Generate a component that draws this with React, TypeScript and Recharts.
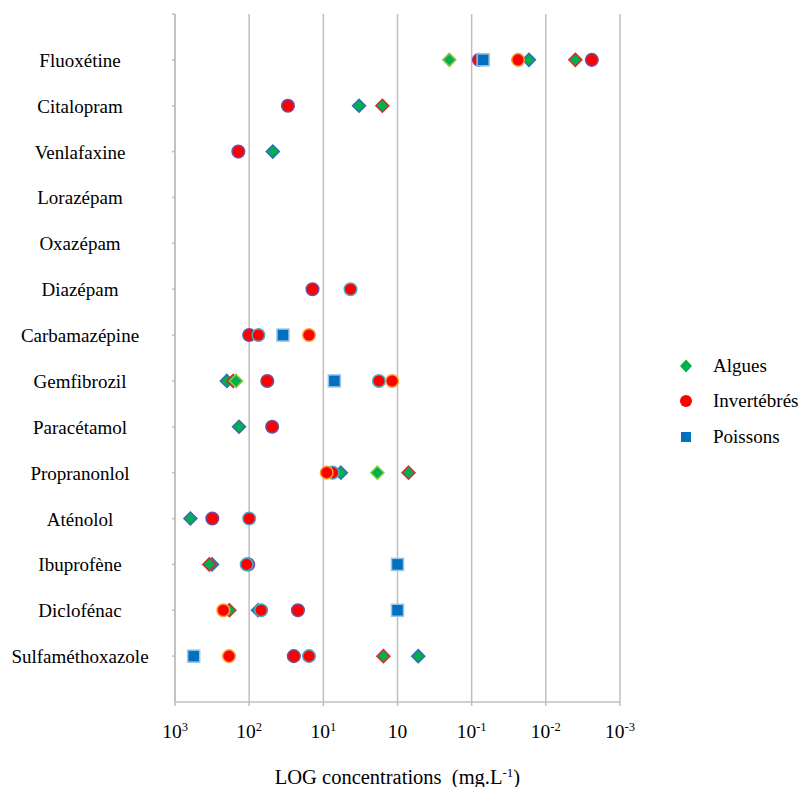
import React from 'react';
import { ScatterChart, Scatter, XAxis, YAxis, CartesianGrid } from 'recharts';

// categories, top to bottom
const drugs = [
  'Fluoxétine', 'Citalopram', 'Venlafaxine', 'Lorazépam', 'Oxazépam', 'Diazépam', 'Carbamazépine',
  'Gemfibrozil', 'Paracétamol', 'Propranonlol', 'Aténolol', 'Ibuprofène', 'Diclofénac', 'Sulfaméthoxazole',
];

// x axis ticks (mg/L) and their printed labels [base, exponent]
const xTickValues = [1000, 100, 10, 1, 0.1, 0.01, 0.001];
const xTickLabels = [['10', '3'], ['10', '2'], ['10', '1'], ['10', ''], ['10', '-1'], ['10', '-2'], ['10', '-3']];

// Algues
const algaeBlueEdge: [string, number][] = [
  ['Fluoxétine', 0.0169], ['Citalopram', 3.3], ['Venlafaxine', 48], ['Gemfibrozil', 200],
  ['Paracétamol', 137], ['Propranonlol', 5.8], ['Aténolol', 620], ['Ibuprofène', 317],
  ['Diclofénac', 76], ['Sulfaméthoxazole', 0.525],
];
const algaeRedEdge: [string, number][] = [
  ['Fluoxétine', 0.004], ['Citalopram', 1.6], ['Gemfibrozil', 164], ['Propranonlol', 0.71],
  ['Ibuprofène', 345], ['Diclofénac', 185], ['Sulfaméthoxazole', 1.55],
];
const algaeLight: [string, number][] = [
  ['Fluoxétine', 0.2], ['Gemfibrozil', 150], ['Propranonlol', 1.87],
];

// Invertébrés
const invPurpleEdge: [string, number][] = [
  ['Fluoxétine', 0.08], ['Fluoxétine', 0.0024], ['Citalopram', 30], ['Venlafaxine', 140],
  ['Diazépam', 14], ['Carbamazépine', 100], ['Gemfibrozil', 57], ['Paracétamol', 49],
  ['Aténolol', 314], ['Ibuprofène', 103], ['Diclofénac', 22], ['Sulfaméthoxazole', 25],
];
const invCyanEdge: [string, number][] = [
  ['Diazépam', 4.3], ['Carbamazépine', 75], ['Gemfibrozil', 1.78], ['Propranonlol', 7.5],
  ['Aténolol', 100], ['Ibuprofène', 108], ['Diclofénac', 69], ['Sulfaméthoxazole', 15.6],
];
const invOrangeEdge: [string, number][] = [
  ['Fluoxétine', 0.0237], ['Carbamazépine', 15.6], ['Gemfibrozil', 1.18], ['Propranonlol', 9.0],
  ['Diclofénac', 223], ['Sulfaméthoxazole', 187],
];

// Poissons
const fish: [string, number][] = [
  ['Fluoxétine', 0.07], ['Carbamazépine', 35], ['Gemfibrozil', 7.1], ['Ibuprofène', 1.0],
  ['Diclofénac', 1.0], ['Sulfaméthoxazole', 560],
];

const FONT = '"Liberation Serif", "Times New Roman", serif';
const GREEN = '#00b050';
const RED = '#ff0000';
const BLUE = '#0070c0';
const GRID = '#bfbfbf';

const toPoints = (rows: [string, number][]) =>
  rows.map(([name, v]) => ({ x: v, y: drugs.indexOf(name) + 1 }));

const series = [
  { key: 'a1', rows: algaeBlueEdge, kind: 'diamond', fill: GREEN, stroke: '#2f6eb5' },
  { key: 'a2', rows: algaeRedEdge, kind: 'diamond', fill: GREEN, stroke: '#d03030' },
  { key: 'a3', rows: algaeLight, kind: 'diamond', fill: GREEN, stroke: '#8cc63f' },
  { key: 'i1', rows: invPurpleEdge, kind: 'circle', fill: RED, stroke: '#7050a0' },
  { key: 'i2', rows: invCyanEdge, kind: 'circle', fill: RED, stroke: '#4bacc6' },
  { key: 'i3', rows: invOrangeEdge, kind: 'circle', fill: RED, stroke: '#f7a030' },
  { key: 'p1', rows: fish, kind: 'square', fill: BLUE, stroke: '#9dc3e6' },
];

const Marker = ({ cx, cy, kind, fill, stroke }: any) => {
  if (cx == null || cy == null) return null;
  if (kind === 'diamond') {
    const r = 6.5;
    return (
      <polygon
        points={`${cx},${cy - r} ${cx + r},${cy} ${cx},${cy + r} ${cx - r},${cy}`}
        fill={fill} stroke={stroke} strokeWidth={1.5}
      />
    );
  }
  if (kind === 'circle') {
    return <circle cx={cx} cy={cy} r={6.3} fill={fill} stroke={stroke} strokeWidth={1.5} />;
  }
  return <rect x={cx - 6} y={cy - 6} width={12} height={12} fill={fill} stroke={stroke} strokeWidth={1.5} />;
};

const XTick = ({ x, y, payload }: any) => {
  const i = xTickValues.indexOf(payload.value);
  const [base, exp] = xTickLabels[i] || ['', ''];
  return (
    <text x={x} y={y + 30} textAnchor="middle" fontFamily={FONT} fontSize={19.5} fill="#000">
      <tspan>{base}</tspan>
      {exp && <tspan dy={-7} fontSize={12.5}>{exp}</tspan>}
    </text>
  );
};

const YTick = ({ y, payload }: any) => {
  const name = drugs[payload.value - 1];
  if (!name) return null;
  return (
    <text x={80} y={y + 7} textAnchor="middle" fontFamily={FONT} fontSize={19} fill="#000">
      {name}
    </text>
  );
};

const XTitle = ({ viewBox }: any) => {
  const cx = viewBox.x + viewBox.width / 2;
  return (
    <text x={cx} y={viewBox.y + 82} textAnchor="middle" fontFamily={FONT} fontSize={20.5} fill="#000">
      <tspan>{'LOG concentrations\u00a0\u00a0(mg.L'}</tspan>
      <tspan dy={-7} fontSize={13}>-1</tspan>
      <tspan dy={7}>)</tspan>
    </text>
  );
};

const legendItems = [
  { label: 'Algues', kind: 'diamond', color: GREEN },
  { label: 'Invertébrés', kind: 'circle', color: RED },
  { label: 'Poissons', kind: 'square', color: BLUE },
];

const LegendIcon = ({ kind, color }: { kind: string; color: string }) => (
  <svg width={16} height={16} style={{ display: 'block' }}>
    {kind === 'diamond' && <polygon points="8,1.5 14,8 8,14.5 2,8" fill={color} />}
    {kind === 'circle' && <circle cx={8} cy={8} r={6} fill={color} />}
    {kind === 'square' && <rect x={3} y={3} width={10} height={10} fill={color} />}
  </svg>
);

export default function App() {
  return (
    <div style={{ position: 'absolute', left: 0, top: 0, width: 801, height: 787, background: '#fff' }}>
      <ScatterChart width={801} height={787} margin={{ top: 14, right: 181, bottom: 0, left: 0 }}>
        <CartesianGrid horizontal={false} stroke={GRID} strokeWidth={1.5} />
        <XAxis
          type="number"
          dataKey="x"
          scale="log"
          domain={[0.001, 1000]}
          reversed
          allowDataOverflow
          ticks={xTickValues}
          interval={0}
          height={85}
          tickSize={4}
          stroke={GRID}
          strokeWidth={1.5}
          tick={<XTick />}
          label={{ content: <XTitle /> }}
        />
        <YAxis
          type="number"
          dataKey="y"
          domain={[0, 15]}
          reversed
          ticks={[0, 1, 2, 3, 4, 5, 6, 7, 8, 9, 10, 11, 12, 13, 14]}
          interval={0}
          width={175}
          tickSize={3}
          stroke={GRID}
          strokeWidth={1.5}
          tick={<YTick />}
        />
        {series.map((s) => (
          <Scatter
            key={s.key}
            data={toPoints(s.rows)}
            isAnimationActive={false}
            shape={(p: any) => <Marker {...p} kind={s.kind} fill={s.fill} stroke={s.stroke} />}
          />
        ))}
      </ScatterChart>
      <div style={{ position: 'absolute', left: 678, top: 348, fontFamily: FONT, fontSize: 19, color: '#000' }}>
        {legendItems.map((it) => (
          <div key={it.label} style={{ display: 'flex', alignItems: 'center', height: 35.5 }}>
            <LegendIcon kind={it.kind} color={it.color} />
            <span style={{ marginLeft: 19 }}>{it.label}</span>
          </div>
        ))}
      </div>
    </div>
  );
}
